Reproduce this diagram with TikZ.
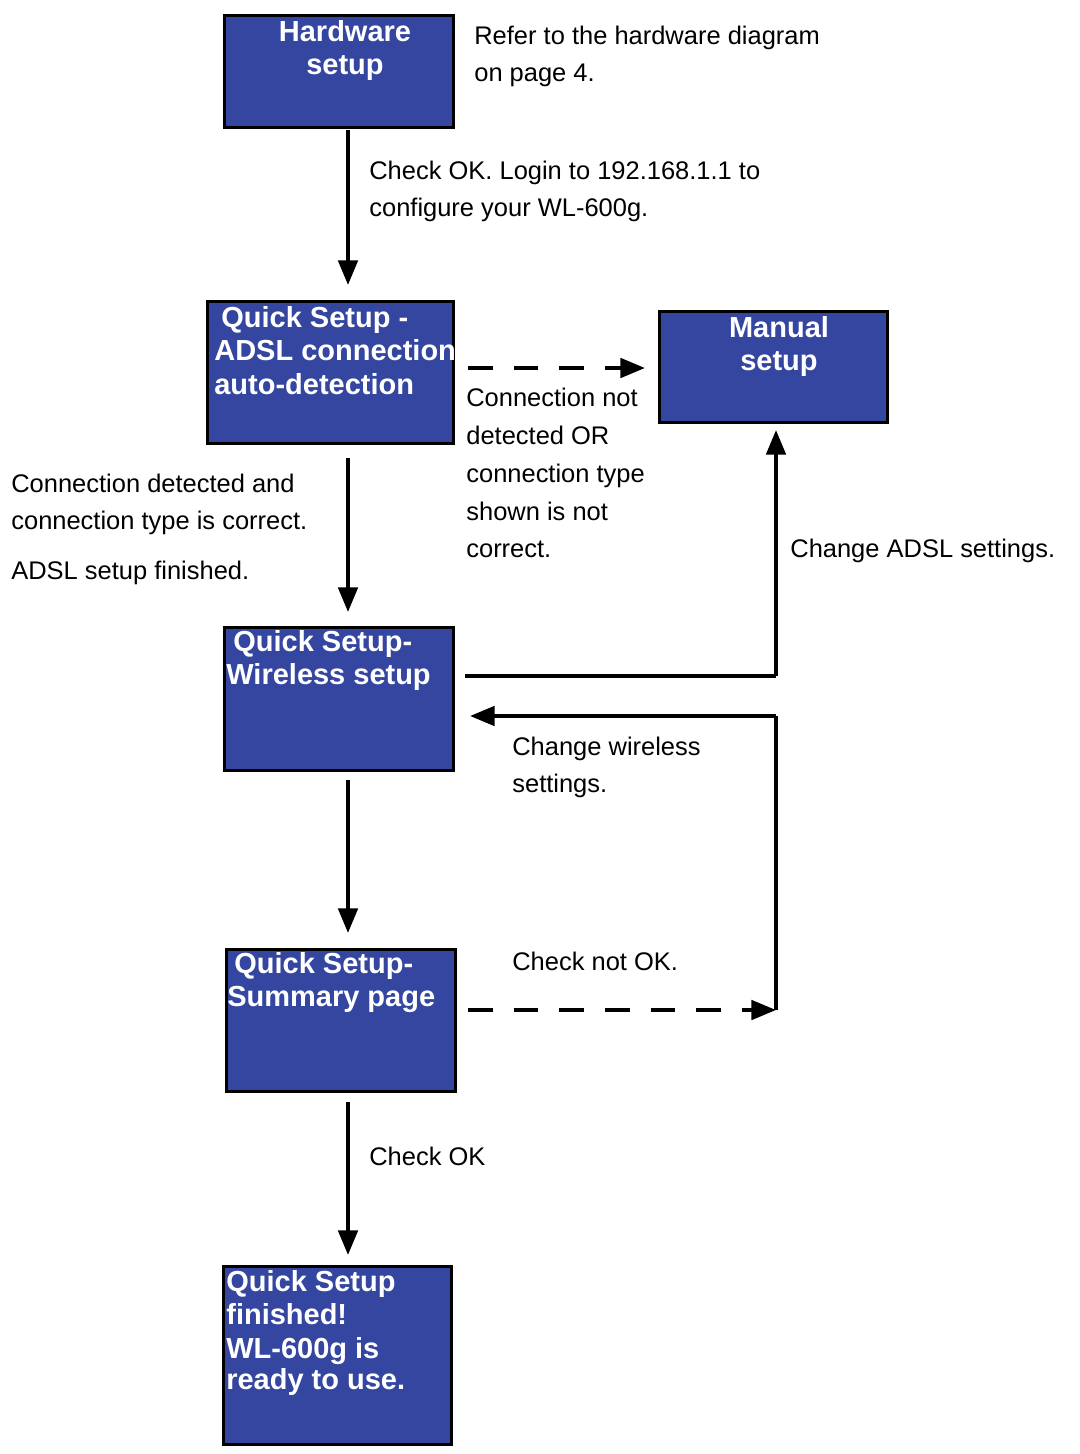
\documentclass[tikz,border=0pt]{standalone}
\usepackage{fontspec}
\setmainfont{Liberation Sans}
\usetikzlibrary{arrows.meta,positioning}
\definecolor{boxblue}{RGB}{52,70,160}
\tikzset{
  box/.style={draw=black, line width=1.6pt, fill=boxblue, anchor=north west, inner sep=0pt},
  boxtext/.style={text=white, font=\fontsize{16.5}{19}\selectfont\bfseries, align=left, anchor=north west, inner sep=0pt},
  note/.style={font=\fontsize{14.5}{21}\selectfont, align=left, anchor=north west, inner sep=0pt},
  flow/.style={line width=2.2pt, -{Triangle[length=14pt,width=11pt]}},
  dashflow/.style={flow, dash pattern=on 14pt off 12pt},
}
\begin{document}
\begin{tikzpicture}[x=0.02cm, y=-0.02cm]
  \useasboundingbox (0,0) rectangle (1079,1454);
  % Boxes
  \node[box, minimum width=229*0.02cm, minimum height=112*0.02cm] (hw) at (223,14) {};
  \node[boxtext, align=center, anchor=north] at (345,20) {Hardware\\setup};
  \node[box, minimum width=246*0.02cm, minimum height=142*0.02cm] (adsl) at (206,300) {};
  \node[boxtext] at (214,306) {\hspace*{4pt}Quick Setup -\\ADSL connection\\auto-detection};
  \node[box, minimum width=228*0.02cm, minimum height=111*0.02cm] (man) at (658,310) {};
  \node[boxtext, align=center, anchor=north] at (779,316) {Manual\\setup};
  \node[box, minimum width=229*0.02cm, minimum height=143*0.02cm] (wl) at (223,626) {};
  \node[boxtext] at (226,630) {\hspace*{4pt}Quick Setup-\\Wireless setup};
  \node[box, minimum width=229*0.02cm, minimum height=142*0.02cm] (sum) at (225,948) {};
  \node[boxtext] at (227,952) {\hspace*{4pt}Quick Setup-\\Summary page};
  \node[box, minimum width=228*0.02cm, minimum height=178*0.02cm] (fin) at (222,1265) {};
  \node[boxtext, font=\fontsize{16.5}{18}\selectfont\bfseries] at (226,1270) {Quick Setup\\[1pt]finished!\\[1pt]WL-600g is\\ready to use.};

  % Junctions
  \coordinate (c1) at (776,676);
  \coordinate (c2) at (776,1010);
  \coordinate (c3) at (776,716);

  % Edges
  \draw[flow] (348,130) -- (348,285);
  \draw[flow] (348,458) -- (348,612);
  \draw[flow] (348,780) -- (348,933);
  \draw[flow] (348,1102) -- (348,1255);
  \draw[dashflow] (468,368) -- (645,368);
  \draw[line width=2.2pt] (465,676) -- (c1);
  \draw[flow] (c1) -- (776,430);
  \draw[dashflow] (468,1010) -- (c2);
  \draw[line width=2.2pt] (c2) -- (c3);
  \draw[flow] (c3) -- (470,716);

  % Notes
  \node[note] at (474,26) {Refer to the hardware diagram\\on page 4.};
  \node[note] at (369,161) {Check OK. Login to 192.168.1.1 to\\configure your WL-600g.};
  \node[note, font=\fontsize{14.5}{21.5}\selectfont] at (466,388) {Connection not\\detected OR\\connection type\\shown is not\\correct.};
  \node[note] at (11,474) {Connection detected and\\connection type is correct.};
  \node[note] at (11,561) {ADSL setup finished.};
  \node[note] at (790,539) {Change ADSL settings.};
  \node[note] at (512,737) {Change wireless\\settings.};
  \node[note] at (512,952) {Check not OK.};
  \node[note] at (369,1147) {Check OK};
\end{tikzpicture}
\end{document}
